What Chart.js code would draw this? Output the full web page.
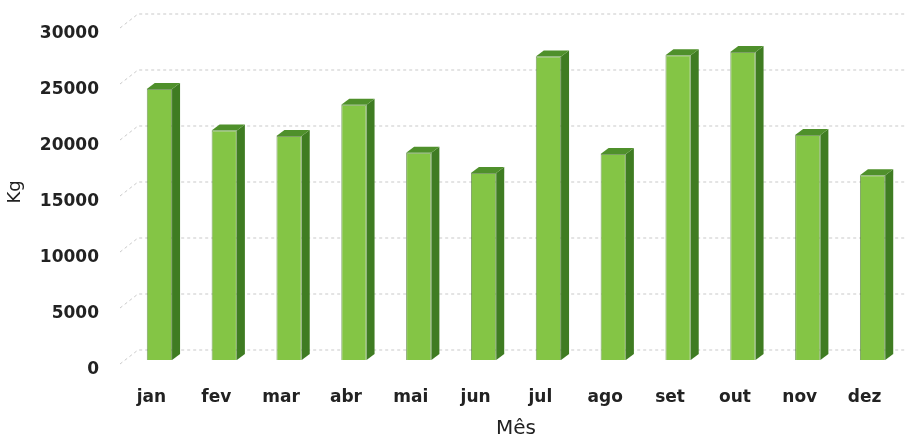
<!DOCTYPE html>
<html>
<head>
<meta charset="utf-8">
<script src="https://cdn.jsdelivr.net/npm/chart.js@4"></script>
<style>
  html, body { margin: 0; padding: 0; background: #fff; }
  #box { width: 908px; height: 441px; }
</style>
</head>
<body>
<div id="box"><canvas id="chart"></canvas></div>
<script>
// Daten
const meses = ['jan', 'fev', 'mar', 'abr', 'mai', 'jun', 'jul', 'ago', 'set', 'out', 'nov', 'dez'];
const kg = [24200, 20500, 20000, 22800, 18500, 16700, 27100, 18400, 27200, 27500, 20100, 16500];
const yMin = 0;
const yMax = 30000;
const yStep = 5000;

// 3D-Optik: Tiefe der Balken und der Rückwand
const barDepth = { dx: 8, dy: 6 };
const wallDepth = { dx: 11, dy: 10 };

// Hintergrund-Gitter (Rückwand) zeichnen
const backGrid = {
  id: 'backGrid',
  beforeDatasetsDraw(chart) {
    const { ctx, chartArea } = chart;
    const y = chart.scales.y;
    ctx.save();
    ctx.strokeStyle = 'rgba(150,150,150,0.5)';
    ctx.lineWidth = 1;
    ctx.setLineDash([3, 3]);
    for (let v = yMin; v <= yMax; v += yStep) {
      const py = y.getPixelForValue(v);
      ctx.beginPath();
      ctx.moveTo(chartArea.left - 7, py + 4);
      ctx.lineTo(chartArea.left + wallDepth.dx, py - wallDepth.dy);
      ctx.lineTo(chartArea.right, py - wallDepth.dy);
      ctx.stroke();
    }
    ctx.restore();
  }
};

// Seiten- und Deckfläche der Balken
const bars3d = {
  id: 'bars3d',
  afterDatasetsDraw(chart) {
    const { ctx } = chart;
    const meta = chart.getDatasetMeta(0);
    ctx.save();
    meta.data.forEach(bar => {
      const l = bar.x - bar.width / 2;
      const r = bar.x + bar.width / 2;
      const t = bar.y;
      const b = bar.base;
      // Seite
      ctx.fillStyle = '#3f7c22';
      ctx.beginPath();
      ctx.moveTo(r, t);
      ctx.lineTo(r + barDepth.dx, t - barDepth.dy);
      ctx.lineTo(r + barDepth.dx, b - barDepth.dy);
      ctx.lineTo(r, b);
      ctx.closePath();
      ctx.fill();
      // Deckel
      ctx.fillStyle = '#4f902b';
      ctx.beginPath();
      ctx.moveTo(l, t);
      ctx.lineTo(l + barDepth.dx, t - barDepth.dy);
      ctx.lineTo(r + barDepth.dx, t - barDepth.dy);
      ctx.lineTo(r, t);
      ctx.closePath();
      ctx.fill();
    });
    ctx.restore();
  }
};

const ctx = document.getElementById('chart');

new Chart(ctx, {
  type: 'bar',
  data: {
    labels: meses,
    datasets: [{
      data: kg,
      backgroundColor: '#84c545',
      borderColor: 'rgba(70,120,35,0.7)',
      borderWidth: 1,
      barPercentage: 0.39,
      categoryPercentage: 1
    }]
  },
  options: {
    responsive: true,
    maintainAspectRatio: false,
    animation: false,
    layout: { padding: { top: 24, right: 3, left: 0, bottom: 0 } },
    plugins: {
      legend: { display: false },
      tooltip: { enabled: false }
    },
    scales: {
      x: {
        grid: { display: false, drawTicks: false },
        border: { display: false },
        ticks: {
          color: '#222',
          font: { family: 'DejaVu Sans', size: 17, weight: 'bold' },
          padding: 27,
          labelOffset: -8,
          maxRotation: 0
        },
        title: {
          display: true,
          text: 'Mês',
          color: '#222',
          font: { family: 'DejaVu Sans', size: 20 },
          padding: { top: 0, bottom: 0 }
        },
        afterFit(scale) {
          scale.height = 81;
          scale.paddingLeft = 0;
          scale.paddingRight = 0;
        }
      },
      y: {
        min: yMin,
        max: yMax,
        grid: { display: false, drawTicks: false },
        border: { display: false },
        ticks: {
          stepSize: yStep,
          color: '#222',
          font: { family: 'DejaVu Sans', size: 17, weight: 'bold' },
          padding: 28,
          labelOffset: 10,
          callback: v => String(v)
        },
        title: {
          display: true,
          text: 'Kg',
          color: '#222',
          font: { family: 'DejaVu Sans', size: 18 },
          padding: { top: 5, bottom: 0 }
        },
        afterFit(scale) {
          scale.width = 127;
          scale.paddingTop = 0;
          scale.paddingBottom = 0;
        }
      }
    }
  },
  plugins: [backGrid, bars3d]
});
</script>
</body>
</html>
